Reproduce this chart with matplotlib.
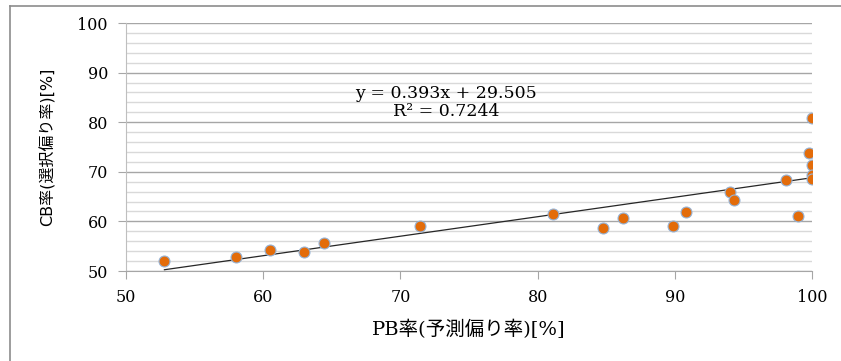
import matplotlib
matplotlib.use('Agg')
import matplotlib.pyplot as plt
from matplotlib.lines import Line2D
from matplotlib.ticker import MultipleLocator
import numpy as np

# PB率 / CB率
pb = [52.8, 58.0, 60.5, 63.0, 64.4, 71.4, 81.1, 84.8, 86.2, 89.9, 90.8,
      94.0, 94.3, 98.1, 99.0, 99.8, 100.0, 100.0, 100.0, 100.0]
cb = [52.0, 52.8, 54.2, 53.9, 55.7, 59.1, 61.4, 58.6, 60.7, 59.0, 61.9,
      66.0, 64.3, 68.3, 61.1, 73.8, 80.9, 71.4, 69.3, 68.6]
slope = 0.393
intercept = 29.505
eq_text = 'y = 0.393x + 29.505'
r2_text = 'R² = 0.7244'

serif = ['DejaVu Serif', 'Noto Sans CJK JP']
plt.rcParams['font.family'] = serif

fig = plt.figure(figsize=(8.41, 3.61), dpi=100)
ax = fig.add_axes([126/841, 1-271/361, (812-126)/841, (271-23)/361])

# trend line across data range
xs = np.array([min(pb), max(pb)])
ax.plot(xs, slope*xs + intercept, color='#262626', lw=0.9, zorder=3)
ax.scatter(pb, cb, s=62, color='#E36C0A', edgecolors='#95B3D7', linewidths=0.8, zorder=4)

ax.set_xlim(50, 100)
ax.set_ylim(50, 100)
ax.xaxis.set_major_locator(MultipleLocator(10))
ax.yaxis.set_major_locator(MultipleLocator(10))
ax.yaxis.set_minor_locator(MultipleLocator(2))
ax.grid(which='major', axis='y', color='#a6a6a6', lw=1.0)
ax.grid(which='minor', axis='y', color='#d9d9d9', lw=1.0)
ax.set_axisbelow(True)
for s in ['top', 'right']:
    ax.spines[s].set_visible(False)
ax.spines['left'].set_color('#bfbfbf')
ax.spines['bottom'].set_color('#a6a6a6')
ax.tick_params(which='major', direction='out', length=6, color='#a6a6a6',
               labelsize=11.5, pad=7)
ax.tick_params(axis='y', which='minor', length=0)

ax.set_xlabel('PB率(予測偏り率)[%]', fontsize=14, labelpad=10)
ax.set_ylabel('CB率(選択偏り率)[%]', fontsize=11.5, labelpad=16,
              family=['DejaVu Sans', 'Noto Sans CJK JP'])

fig.text(446/841, 1-93/361, eq_text, fontsize=12.5, ha='center', va='center')
fig.text(446/841, 1-112/361, r2_text, fontsize=12.5, ha='center', va='center')

# outer frame
fig.add_artist(Line2D([10/841, 10/841], [0, 1-6/361], transform=fig.transFigure, color='#8c8c8c', lw=1.2))
fig.add_artist(Line2D([10/841, 1], [1-6/361, 1-6/361], transform=fig.transFigure, color='#8c8c8c', lw=1.2))

fig.savefig('out.png', dpi=100)
